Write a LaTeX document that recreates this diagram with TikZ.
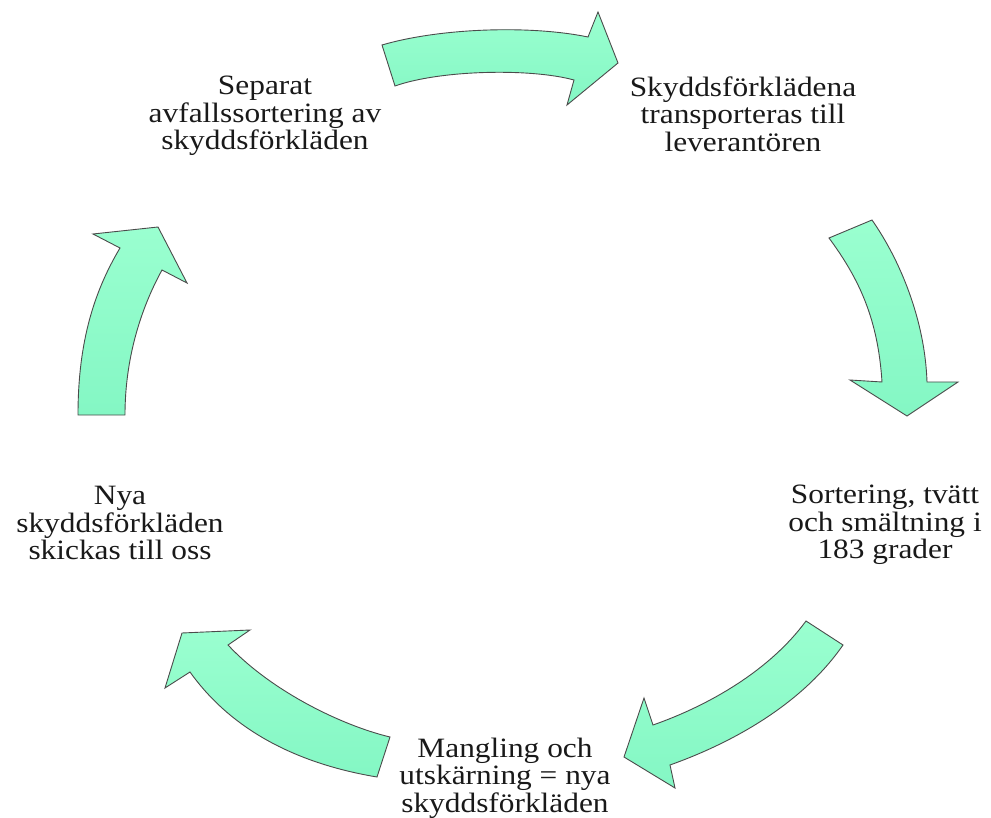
\documentclass[tikz,border=0pt]{standalone}
\usepackage{fontspec}
\setmainfont[FakeStretch=1.12]{Liberation Serif}
\usetikzlibrary{calc}

\definecolor{mintlight}{RGB}{154,255,208}
\definecolor{mintdark}{RGB}{132,247,196}
\definecolor{edgegray}{RGB}{75,75,75}
\definecolor{textgray}{RGB}{25,25,25}

\tikzset{
  cyclearrow/.style={draw=edgegray,line width=0.9pt,line join=miter,
    top color=mintlight,bottom color=mintdark},
  steptext/.style={align=center,text=textgray,inner sep=0pt,
    font=\fontsize{28}{27.5}\selectfont}
}

\begin{document}
\begin{tikzpicture}[x=1pt,y=-1pt]

\useasboundingbox (0,0) rectangle (991,818);

\node[steptext] (sep) at (265,116) {Separat\\avfallssortering av\\skyddsförkläden};
\node[steptext] (trans) at (743,114) {Skyddsförklädena\\transporteras till\\leverantören};
\node[steptext] (tvatt) at (885,525) {Sortering, tvätt\\och smältning i\\183 grader};
\node[steptext] (mangel) at (505,778) {Mangling och\\utskärning = nya\\skyddsförkläden};
\node[steptext] (nya) at (120,523) {Nya\\skyddsförkläden\\skickas till oss};

% top
\draw[cyclearrow] (382,45) .. controls (440,28) and (530,25) .. (588,37)
  -- (598,12) -- (618,63) -- (567,105) -- (574,80)
  .. controls (530,68) and (440,70) .. (395,86) -- cycle;
% right
\draw[cyclearrow] (872,220) .. controls (900,260) and (925,320) .. (927,382)
  -- (958,382) -- (907,416) -- (850,380) -- (882,382)
  .. controls (878,320) and (860,280) .. (829,238) -- cycle;
% bottom right
\draw[cyclearrow] (806,621) .. controls (770,670) and (710,705) .. (653,725)
  -- (644,698) -- (624,757) -- (675,788) -- (670,765)
  .. controls (740,740) and (805,700) .. (843,645) -- cycle;
% bottom left
\draw[cyclearrow] (390,737) .. controls (340,725) and (270,690) .. (228,645)
  -- (250,630) -- (182,633) -- (165,688) -- (190,672)
  .. controls (235,735) and (305,765) .. (377,777) -- cycle;
% left
\draw[cyclearrow] (78,415) .. controls (78,340) and (95,290) .. (120,248)
  -- (93,234) -- (158,227) -- (187,283) -- (162,270)
  .. controls (140,310) and (125,360) .. (125,415) -- cycle;

\end{tikzpicture}
\end{document}
